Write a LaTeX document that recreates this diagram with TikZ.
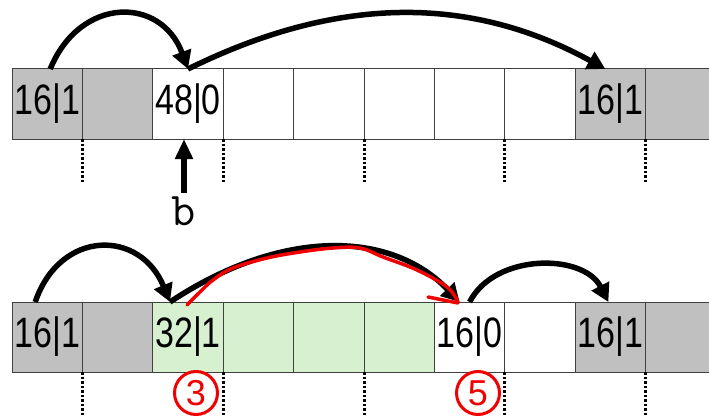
\documentclass[tikz,border=0pt]{standalone}
\usepackage{fontspec}
\setmainfont{Liberation Sans}
\usetikzlibrary{arrows.meta,calc}
\definecolor{cellgrey}{RGB}{192,192,192}
\definecolor{cellgreen}{RGB}{214,240,208}
\definecolor{inkred}{RGB}{240,0,0}
\newcommand\celltxt[1]{\scalebox{1}[1.25]{#1}}
\begin{document}
\begin{tikzpicture}[x=1pt,y=1pt,
  cell/.style={draw=black!75, line width=1pt, minimum width=70.4pt, minimum height=70pt,
    inner sep=0pt, outer sep=0pt, font=\fontsize{34}{34}\selectfont},
  greycell/.style={cell, fill=cellgrey},
  greencell/.style={cell, fill=cellgreen},
  whitecell/.style={cell, fill=white},
  conn/.style={line width=5.5pt, -{Triangle[length=18pt,width=19pt]}},
  dotline/.style={line width=3pt, dash pattern=on 2.5pt off 2pt},
  redink/.style={draw=inkred, line width=3.5pt, line cap=round, line join=round},
  circnum/.style={circle, draw=inkred, line width=3pt, minimum size=43pt, inner sep=0pt,
    text=inkred, font=\fontsize{36}{36}\selectfont}
]
\useasboundingbox (0,0) rectangle (709,-417);
\clip (0,0) rectangle (709,-417);

% ---------- top row ----------
\node[greycell]  (t0) at (47.2,-104)  {\celltxt{16|1}};
\node[greycell]  (t1) at (117.6,-104) {};
\node[whitecell] (t2) at (188,-104)   {\celltxt{48|0}};
\node[whitecell] (t3) at (258.4,-104) {};
\node[whitecell] (t4) at (328.8,-104) {};
\node[whitecell] (t5) at (399.2,-104) {};
\node[whitecell] (t6) at (469.6,-104) {};
\node[whitecell] (t7) at (540,-104)   {};
\node[greycell]  (t8) at (610.4,-104) {\celltxt{16|1}};
\node[greycell]  (t9) at (680.8,-104) {};

\foreach \c in {t0,t2,t4,t6,t8}
  \draw[dotline] (\c.south east) -- ++(0,-43);

\coordinate (ta) at ($(t0.north)+(3,0)$);
\coordinate (tb) at (t2.north);
\coordinate (tc) at ($(t8.north)+(-5,0)$);
\draw[conn] (ta) .. controls ($(ta)+(30,73)$) and ($(tb)+(-27,73)$) .. (tb);
\draw[conn] (tb) .. controls ($(tb)+(150,74)$) and ($(tc)+(-135,74)$) .. (tc);

\node[inner sep=0pt] (blab) at (184,-211) {\ttfamily\fontsize{47}{47}\selectfont b};
\coordinate (bs) at (184,-193);
\draw[line width=5.5pt, -{Triangle[length=20pt,width=17pt]}] (bs) -- (bs |- t2.south);

% ---------- bottom row ----------
\node[greycell]  (b0) at (47.2,-337)  {\celltxt{16|1}};
\node[greycell]  (b1) at (117.6,-337) {};
\node[greencell] (b2) at (188,-337)   {\celltxt{32|1}};
\node[greencell] (b3) at (258.4,-337) {};
\node[greencell] (b4) at (328.8,-337) {};
\node[greencell] (b5) at (399.2,-337) {};
\node[whitecell] (b6) at (469.6,-337) {\celltxt{16|0}};
\node[whitecell] (b7) at (540,-337)   {};
\node[greycell]  (b8) at (610.4,-337) {\celltxt{16|1}};
\node[greycell]  (b9) at (680.8,-337) {};

\foreach \c in {b0,b2,b4,b6,b8}
  \draw[dotline] (\c.south east) -- ++(0,-43);

\coordinate (ba) at ($(b0.north)+(-12,0)$);
\coordinate (bb) at ($(b2.north)+(-18,0)$);
\coordinate (bc) at ($(b6.north)+(-10,0)$);
\coordinate (bd) at (b6.north);
\coordinate (be) at ($(b8.north)+(-2,0)$);
\draw[conn] (ba) .. controls ($(ba)+(25,73)$) and ($(bb)+(-30,73)$) .. (bb);
\draw[conn] (bb) .. controls ($(bb)+(110,73)$) and ($(bc)+(-70,73)$) .. (bc);
\draw[conn] (bd) .. controls ($(bd)+(25,49)$) and ($(be)+(-25,49)$) .. (be);

% ---------- red annotations ----------
\draw[redink] plot[smooth, tension=0.6] coordinates {(187,-305) (200,-292) (213,-280) (233,-268) (267,-258) (300,-252) (333,-248) (360,-248) (383,-257) (417,-270) (447,-287) (458,-302)};
\draw[redink] (428,-297) -- (458,-303);

\node[circnum] (n3) at (196,-393) {3};
\node[circnum] (n5) at (478,-393) {5};
\end{tikzpicture}
\end{document}
